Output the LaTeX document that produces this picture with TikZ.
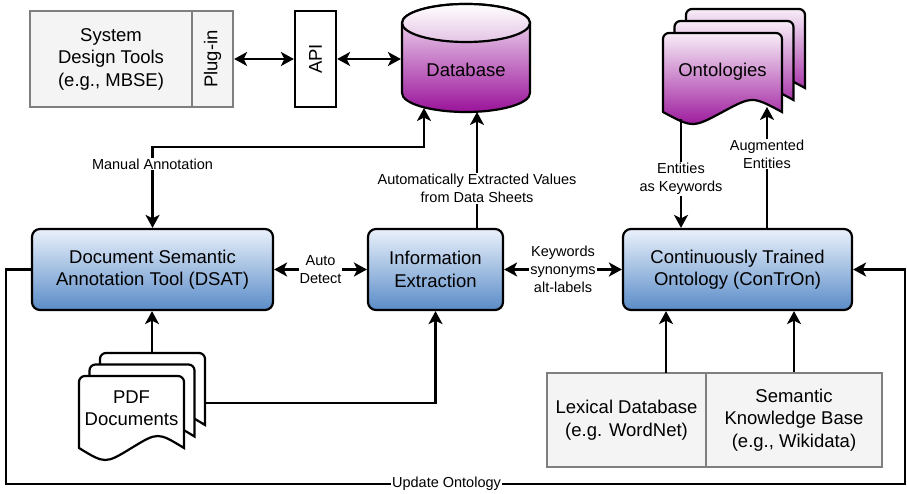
\documentclass[tikz,border=0pt]{standalone}
\usepackage{fontspec}
\setsansfont{Liberation Sans}
\usetikzlibrary{arrows.meta}
\definecolor{BoxBlueTop}{HTML}{EAF1FB}
\definecolor{BoxBlueBottom}{HTML}{5A8CC8}
\definecolor{StoreTop}{HTML}{F8EEF8}
\definecolor{StoreBottom}{HTML}{9A139A}
\definecolor{DiskLid}{HTML}{E4C4E4}
\definecolor{ToolGray}{HTML}{F4F4F4}
\definecolor{EdgeGray}{HTML}{7F7F7F}
\newcommand{\docpage}[5]{%
  \path[#1] (#2,#5) -- (#2,#3+6) arc[start angle=180, end angle=90, radius=6pt]
    -- (#2+#4-6,#3) arc[start angle=90, end angle=0, radius=6pt] -- (#2+#4,#5)
    .. controls (#2+0.75*#4,#5-16) .. (#2+0.5*#4,#5)
    .. controls (#2+0.25*#4,#5+16) .. (#2,#5) -- cycle;}

\begin{document}
\begin{tikzpicture}[x=1pt, y=-1pt, line width=2.2pt, every node/.style={font=\sffamily\fontsize{18.5}{22.5}\selectfont}]
  \tikzstyle{process}=[rectangle, rounded corners=8pt, draw=black, top color=BoxBlueTop, bottom color=BoxBlueBottom,
  minimum height=81pt, align=center, inner sep=0pt]
  \tikzstyle{tool}=[rectangle, draw=EdgeGray, fill=ToolGray, align=center, inner sep=0pt]
  \tikzstyle{page}=[draw=black, top color=StoreTop, bottom color=StoreBottom]
  \tikzstyle{pdfpage}=[draw=black, fill=white]
  \tikzstyle{flow}=[-{Stealth[length=13pt, width=14pt, inset=3.5pt]}]
  \tikzstyle{biflow}=[{Stealth[length=13pt, width=14pt, inset=3.5pt]}-{Stealth[length=13pt, width=14pt, inset=3.5pt]}]
  \tikzstyle{note}=[font=\sffamily\fontsize{14.5}{18}\selectfont, fill=white, align=center, inner sep=1pt]
  \useasboundingbox (0,0) rectangle (907,494);

  \shade[page] (402,23) -- (402,93) arc[start angle=180, end angle=360, x radius=64pt, y radius=19pt]
    -- (530,23) arc[start angle=0, end angle=180, x radius=64pt, y radius=19pt] -- cycle;
  \shade[draw=black, top color=white, bottom color=DiskLid] (466,23) ellipse[x radius=64pt, y radius=19pt];
  \docpage{page}{686}{9}{119}{88}
  \docpage{page}{674.5}{21}{119}{100}
  \docpage{page}{663}{33}{119}{112}
  \docpage{pdfpage}{100}{353}{105}{425}
  \docpage{pdfpage}{89.5}{364.5}{105}{436.5}
  \docpage{pdfpage}{79}{376}{105}{448}

  \node[tool, minimum width=162pt, minimum height=96pt] (sdt) at (111,59) {System\\Design Tools\\(e.g., MBSE)};
  \node[tool, minimum width=41pt, minimum height=96pt] (plug) at (212.5,59) {\rotatebox{90}{Plug-in}};
  \node[rectangle, draw=black, fill=white, minimum width=41pt, minimum height=96pt, inner sep=0pt] (api) at (315.5,59) {\rotatebox{90}{API}};
  \node[minimum width=128pt, minimum height=84pt, inner sep=0pt] (db) at (466,70) {Database};
  \node (onto) at (722.5,72) {Ontologies};
  \node[align=center] (pdf) at (131.5,408) {PDF\\Documents};
  \node[process, minimum width=241pt] (dsat) at (152.5,269.5) {Document Semantic\\Annotation Tool (DSAT)};
  \node[process, minimum width=135pt] (ie) at (435.5,269.5) {Information\\Extraction};
  \node[process, minimum width=229pt] (contr) at (737.5,269.5) {Continuously Trained\\Ontology (ConTrOn)};
  \node[tool, minimum width=159pt, minimum height=94pt] (lex) at (626.5,420) {Lexical Database\\(e.g. WordNet)};
  \node[tool, minimum width=176pt, minimum height=94pt] (kb) at (794,420) {Semantic\\Knowledge Base\\(e.g., Wikidata)};

  \coordinate (dbL) at (424,108);
  \coordinate (dbR) at (477,112);
  \coordinate (ontoL) at (681,119);
  \coordinate (ontoR) at (767,107);
  \coordinate (pdfTop) at (152,353);
  \coordinate (pdfRight) at (205,403);
  \coordinate (lexOut) at (666,373);
  \coordinate (loopL) at (6,484);
  \coordinate (loopR) at (905,484);

  \draw[biflow] (plug) -- (api);
  \draw[biflow] (api.east) -- (api.east -| db.west);
  \draw[biflow] (dsat.north) -- ++(0,-81) node[note, pos=0.79] {Manual Annotation} -| (dbL);
  \draw[flow] (dbR |- ie.north) -- (dbR) node[note, pos=0.34] {Automatically Extracted Values\\from Data Sheets};
  \draw[flow] (ontoL) -- (ontoL |- contr.north) node[note, pos=0.55] {Entities\\as Keywords};
  \draw[flow] (ontoR |- contr.north) -- (ontoR) node[note, pos=0.61] {Augmented\\Entities};
  \draw[biflow] (dsat) -- (ie) node[note, midway] {Auto\\Detect};
  \draw[biflow] (ie) -- (contr) node[note, midway] {Keywords\\synonyms\\alt-labels};
  \draw[flow] (pdfTop) -- (pdfTop |- dsat.south);
  \draw[flow] (pdfRight) -| (ie.south);
  \draw[flow] (lexOut) -- (lexOut |- contr.south);
  \draw[flow] (kb.north) -- (kb.north |- contr.south);
  \draw[flow] (dsat.west) -| (loopL) -- (loopR) node[note, pos=0.49] {Update Ontology} |- (contr.east);
\end{tikzpicture}
\end{document}
